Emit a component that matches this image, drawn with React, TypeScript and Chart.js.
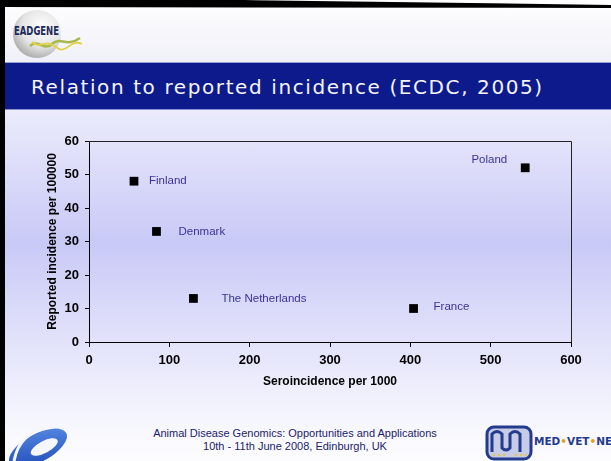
import React, { useEffect, useRef } from "react";
import { Chart, registerables } from "chart.js";

Chart.register(...registerables);

// ---- data ----
const countries = ["Finland", "Denmark", "The Netherlands", "France", "Poland"];
const seroincidence = [56, 84, 130, 404, 543];
const reportedIncidence = [48, 33, 13, 10, 52];
const xTickValues = [0, 100, 200, 300, 400, 500, 600];
const yTickValues = [0, 10, 20, 30, 40, 50, 60];
const xTitle = "Seroincidence per 1000";
const yTitle = "Reported incidence per 100000";
const slideTitle = "Relation to reported incidence (ECDC, 2005)";
const footerLines = [
  "Animal Disease Genomics: Opportunities and Applications",
  "10th - 11th June 2008, Edinburgh, UK",
];

// label placement (style, relative to each point)
const labelDX = [15, 22, 28, 20, -18];
const labelDY = [0, 0, 0, -2, -8];
const labelAlign: CanvasTextAlign[] = ["left", "left", "left", "left", "right"];

const FONT = "'Liberation Sans', Arial, sans-serif";

const pointLabels = {
  id: "pointLabels",
  afterDatasetsDraw(chart: any) {
    const ctx = chart.ctx;
    const meta = chart.getDatasetMeta(0);
    ctx.save();
    ctx.font = `11.5px ${FONT}`;
    ctx.fillStyle = "#3b3398";
    ctx.textBaseline = "middle";
    meta.data.forEach((pt: any, i: number) => {
      ctx.textAlign = labelAlign[i];
      ctx.fillText(countries[i], pt.x + labelDX[i], pt.y + labelDY[i]);
    });
    ctx.restore();
  },
};

const plotFrame = {
  id: "plotFrame",
  beforeDatasetsDraw(chart: any) {
    const { ctx, chartArea } = chart;
    ctx.save();
    ctx.strokeStyle = "#222";
    ctx.lineWidth = 1;
    ctx.beginPath();
    ctx.moveTo(chartArea.left, chartArea.top + 0.5);
    ctx.lineTo(chartArea.right + 0.5, chartArea.top + 0.5);
    ctx.lineTo(chartArea.right + 0.5, chartArea.bottom);
    ctx.stroke();
    ctx.restore();
  },
};

function ScatterChart() {
  const ref = useRef<HTMLCanvasElement | null>(null);
  useEffect(() => {
    if (!ref.current) return;
    const chart = new Chart(ref.current, {
      type: "scatter",
      data: {
        datasets: [
          {
            label: "Incidence",
            data: seroincidence.map((x, i) => ({ x, y: reportedIncidence[i] })),
            pointStyle: "rect",
            pointRadius: 6.2,
            pointHoverRadius: 6.2,
            backgroundColor: "#000",
            borderColor: "#000",
            borderWidth: 0,
          },
        ],
      },
      options: {
        animation: false,
        responsive: false,
        maintainAspectRatio: false,
        events: [],
        layout: { padding: { left: 0, top: 21, right: 40, bottom: 0 } },
        plugins: { legend: { display: false }, tooltip: { enabled: false } },
        scales: {
          x: {
            type: "linear",
            min: 0,
            max: 600,
            afterBuildTicks: (s: any) => {
              s.ticks = xTickValues.map((v) => ({ value: v }));
            },
            afterFit: (s: any) => {
              s.height = 58;
            },
            ticks: {
              color: "#000",
              font: { family: FONT, size: 13, weight: "bold" },
              padding: 6,
            },
            grid: {
              drawOnChartArea: false,
              drawTicks: true,
              tickLength: 5,
              color: "#000",
            },
            border: { display: true, color: "#000", width: 1 },
            title: {
              display: true,
              text: xTitle,
              color: "#000",
              font: { family: FONT, size: 12, weight: "bold" },
              padding: { top: 0, bottom: 11 },
            },
          },
          y: {
            type: "linear",
            min: 0,
            max: 60,
            afterBuildTicks: (s: any) => {
              s.ticks = yTickValues.map((v) => ({ value: v }));
            },
            afterFit: (s: any) => {
              s.width = 89;
            },
            ticks: {
              color: "#000",
              font: { family: FONT, size: 13, weight: "bold" },
              padding: 6,
            },
            grid: {
              drawOnChartArea: false,
              drawTicks: true,
              tickLength: 4,
              color: "#000",
            },
            border: { display: true, color: "#000", width: 1 },
            title: {
              display: true,
              text: yTitle,
              color: "#000",
              font: { family: FONT, size: 12, weight: "bold" },
              padding: { top: 45, bottom: 0 },
            },
          },
        },
      },
      plugins: [plotFrame, pointLabels],
    } as any);
    return () => chart.destroy();
  }, []);
  return (
    <canvas
      ref={ref}
      width={611}
      height={280}
      style={{ position: "absolute", left: 0, top: 120, width: 611, height: 280 }}
    />
  );
}

function Logos() {
  return (
    <svg
      width={611}
      height={461}
      style={{ position: "absolute", left: 0, top: 0 }}
      xmlns="http://www.w3.org/2000/svg"
    >
      <defs>
        <radialGradient id="ball" cx="0.6" cy="0.35" r="0.7">
          <stop offset="0" stopColor="#ffffff" />
          <stop offset="0.6" stopColor="#e4e4e4" />
          <stop offset="1" stopColor="#a8a8a8" />
        </radialGradient>
        <linearGradient id="swoosh" x1="0" y1="1" x2="1" y2="0">
          <stop offset="0" stopColor="#1a46b4" />
          <stop offset="1" stopColor="#5b8ee6" />
        </linearGradient>
      </defs>
      {/* EADGENE logo */}
      <circle cx={37} cy={34} r={24} fill="url(#ball)" />
      <path d="M30 46 C38 38, 44 52, 52 44 S 66 48, 80 38" stroke="#a9b84a" strokeWidth={2.5} fill="none" />
      <path d="M32 42 C40 50, 46 38, 56 47 S 70 38, 82 44" stroke="#e2d24a" strokeWidth={1.8} fill="none" />
      <text x={14} y={35} fontFamily="'DejaVu Sans Condensed', 'DejaVu Sans', sans-serif" fontWeight="bold" fontSize={13} fill="#1d2a5a" textLength={45} lengthAdjust="spacingAndGlyphs">
        EADGENE
      </text>
      {/* bottom-left swoosh */}
      <g transform="rotate(-28 38 448)">
        <ellipse cx={38} cy={448} rx={32} ry={14} fill="url(#swoosh)" />
        <ellipse cx={44} cy={450} rx={15} ry={6} fill="#f6f6fd" />
      </g>
      <path d="M14 461 C18 440, 30 432, 46 428" stroke="#f6f6fd" strokeWidth={3} fill="none" />
      {/* MED-VET-NET logo */}
      <rect x={487} y={427} width={44} height={32} rx={7} fill="#c6cbe8" stroke="#243a8c" strokeWidth={3} />
      <path d="M492 452 V434 Q497 429 502 434 V448 Q506 452 510 448 V434 Q515 429 520 434 V452" stroke="#243a8c" strokeWidth={3} fill="none" />
      {[494, 499, 504, 516, 521, 526].map((cx, i) => (
        <circle key={i} cx={cx} cy={455} r={1.2} fill="#e8c640" />
      ))}
      <text x={534} y={445} fontFamily="'DejaVu Sans', sans-serif" fontWeight="bold" fontSize={10.5} fill="#243a8c">
        MED<tspan fill="#e0a020">•</tspan>VET<tspan fill="#e0a020">•</tspan>NET
      </text>
    </svg>
  );
}

export default function App() {
  return (
    <div
      style={{
        position: "fixed",
        left: 0,
        top: 0,
        width: 611,
        height: 461,
        overflow: "hidden",
        background: "#fff",
      }}
    >
      {/* header white area */}
      <div style={{ position: "absolute", left: 0, top: 0, width: 611, height: 62, background: "linear-gradient(#ffffff, #f0f0f8)" }} />
      <div style={{ position: "absolute", left: 0, top: 62, width: 611, height: 1, background: "#9aa0d8" }} />
      <div style={{ position: "absolute", left: 0, top: 63, width: 611, height: 46, background: "#0c1a8c" }} />
      <div style={{ position: "absolute", left: 0, top: 109, width: 611, height: 1, background: "#8890d0" }} />
      <div
        style={{
          position: "absolute",
          left: 0,
          top: 110,
          width: 611,
          height: 351,
          background: "linear-gradient(#ebebfc 0%, #c9c9f7 38%, #f4f4fd 86%, #fdfdff 100%)",
        }}
      />
      <div
        style={{
          position: "absolute",
          left: 31,
          top: 64,
          height: 46,
          lineHeight: "46px",
          color: "#f4f4f8",
          fontFamily: "'DejaVu Sans', Verdana, sans-serif",
          fontSize: 20,
          letterSpacing: 1.6,
          whiteSpace: "nowrap",
        }}
      >
        {slideTitle}
      </div>
      <Logos />
      <ScatterChart />
      <div
        style={{
          position: "absolute",
          left: 0,
          top: 427,
          width: 590,
          textAlign: "center",
          fontFamily: FONT,
          fontSize: 11,
          lineHeight: "13px",
          color: "#1c1c6a",
        }}
      >
        {footerLines.map((l, i) => (
          <div key={i}>{l}</div>
        ))}
      </div>
      {/* black frame */}
      <div
        style={{
          position: "absolute",
          left: 0,
          top: 0,
          width: 611,
          height: 8,
          background: "#000",
          clipPath: "polygon(0 0, 40% 0, 100% 5px, 100% 8px, 0 7px)",
        }}
      />
      <div style={{ position: "absolute", left: 0, top: 0, width: 5, height: 461, background: "#000" }} />
    </div>
  );
}
